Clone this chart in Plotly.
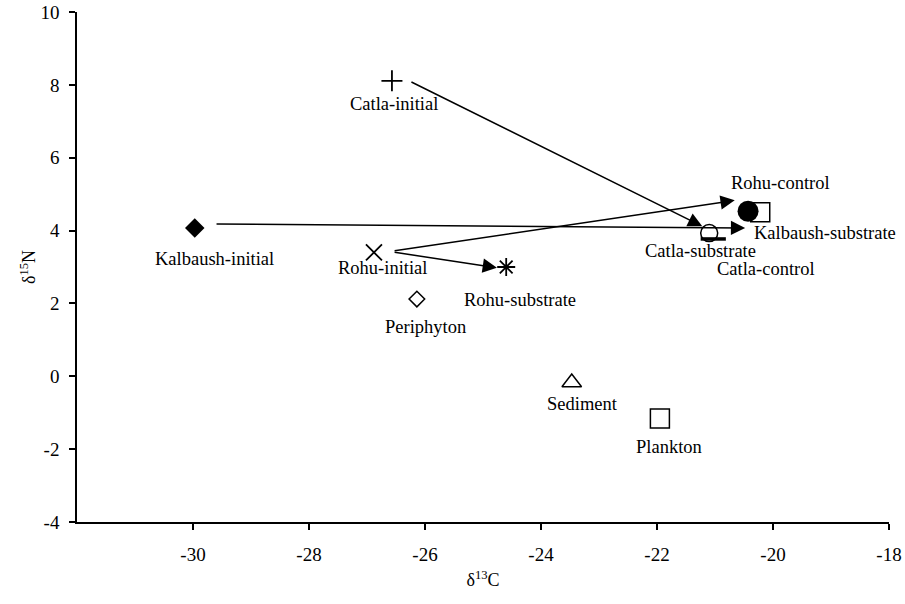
import plotly.graph_objects as go

# Stable isotope values (delta 13C, delta 15N) per sample group
names = ["Kalbaush-substrate", "Rohu-control", "Catla-initial", "Kalbaush-initial",
         "Rohu-initial", "Rohu-substrate", "Periphyton", "Sediment", "Plankton",
         "Catla-substrate", "Catla-control"]
d13c = [-20.22, -20.43, -26.57, -29.97, -26.88, -24.60, -26.14, -23.47, -21.95, -21.10, -21.03]
d15n = [4.50, 4.53, 8.11, 4.07, 3.40, 3.00, 2.12, -0.17, -1.16, 3.93, 3.77]

# Shift arrows: tail and head in (delta 13C, delta 15N)
arrow_tail_c = [-26.26, -29.62, -26.55, -26.55]
arrow_tail_n = [8.10, 4.18, 3.44, 3.41]
arrow_head_c = [-21.22, -20.48, -20.66, -24.76]
arrow_head_n = [4.12, 4.07, 4.83, 2.98]

x_ticks = [-30, -28, -26, -24, -22, -20, -18]
y_ticks = [-4, -2, 0, 2, 4, 6, 8, 10]

FONT = "Liberation Serif, Times New Roman, serif"

# Marker styles per group
styles = {
    "Kalbaush-substrate": dict(symbol="square-open", size=19, line=dict(width=1.5, color="black")),
    "Rohu-control": dict(symbol="circle", size=21, color="black"),
    "Catla-initial": dict(symbol="cross-thin-open", size=15, line=dict(width=1.8, color="black")),
    "Kalbaush-initial": dict(symbol="diamond", size=15, color="black"),
    "Rohu-initial": dict(symbol="x-thin-open", size=16, line=dict(width=1.8, color="black")),
    "Rohu-substrate": dict(symbol="asterisk-open", size=15, line=dict(width=1.8, color="black")),
    "Periphyton": dict(symbol="diamond-open", size=12, line=dict(width=1.5, color="black")),
    "Sediment": dict(symbol="triangle-up-open", size=17, line=dict(width=1.5, color="black")),
    "Plankton": dict(symbol="square-open", size=19, line=dict(width=1.5, color="black")),
    "Catla-substrate": dict(symbol="circle-open", size=17, line=dict(width=1.5, color="black")),
    "Catla-control": dict(symbol="line-ew-open", size=18, line=dict(width=3.5, color="black")),
}

# Label placement relative to each marker (pixels; xshift right, yshift up)
label_offsets = {
    "Catla-initial": (2, -23, "center"),
    "Kalbaush-initial": (20, -31, "center"),
    "Rohu-initial": (9, -16, "center"),
    "Rohu-substrate": (14, -33, "center"),
    "Periphyton": (9, -28, "center"),
    "Sediment": (11, -22, "center"),
    "Plankton": (9, -28, "center"),
    "Catla-substrate": (-9, -18, "center"),
    "Catla-control": (53, -30, "center"),
    "Rohu-control": (32, 28, "center"),
    "Kalbaush-substrate": (-8, -21, "left"),
}

fig = go.Figure()
for nm, cx, ny in zip(names, d13c, d15n):
    st = dict(styles[nm])
    if "color" not in st:
        st["color"] = "black"
    fig.add_trace(go.Scatter(x=[cx], y=[ny], mode="markers", marker=st,
                             name=nm, showlegend=False, cliponaxis=False))

annotations = []
for tc, tn, hc, hn in zip(arrow_tail_c, arrow_tail_n, arrow_head_c, arrow_head_n):
    annotations.append(dict(x=hc, y=hn, ax=tc, ay=tn, xref="x", yref="y",
                            axref="x", ayref="y", text="", showarrow=True,
                            arrowhead=2, arrowsize=1.9, arrowwidth=1.5,
                            arrowcolor="black"))

for nm, cx, ny in zip(names, d13c, d15n):
    dx, dy, anchor = label_offsets[nm]
    annotations.append(dict(x=cx, y=ny, xref="x", yref="y", text=nm,
                            showarrow=False, xshift=dx, yshift=dy,
                            xanchor=anchor, yanchor="middle",
                            font=dict(family=FONT, size=18.5, color="black")))

fig.update_layout(
    width=905, height=604,
    margin=dict(l=77, r=16, t=12, b=82),
    paper_bgcolor="white", plot_bgcolor="white",
    font=dict(family=FONT, size=18, color="black"),
    annotations=annotations,
)
fig.update_xaxes(
    range=[-32, -18], tickvals=x_ticks, ticktext=[str(v) for v in x_ticks],
    automargin=False,
    showgrid=False, zeroline=False, showline=True, linecolor="black", linewidth=1.5,
    ticks="outside", ticklen=6, tickwidth=1.5, tickcolor="black",
    ticklabelstandoff=8, tickfont=dict(family=FONT, size=19),
    title=dict(text="δ<sup>13</sup>C", font=dict(family=FONT, size=18), standoff=10),
)
fig.update_yaxes(
    range=[-4, 10], tickvals=y_ticks, ticktext=[str(v) for v in y_ticks],
    automargin=False,
    showgrid=False, zeroline=False, showline=True, linecolor="black", linewidth=1.5,
    ticks="outside", ticklen=6, tickwidth=1.5, tickcolor="black",
    ticklabelstandoff=6, tickfont=dict(family=FONT, size=19),
    title=dict(text="δ<sup>15</sup>N", font=dict(family=FONT, size=18), standoff=0),
)

fig.write_html("out.html")
